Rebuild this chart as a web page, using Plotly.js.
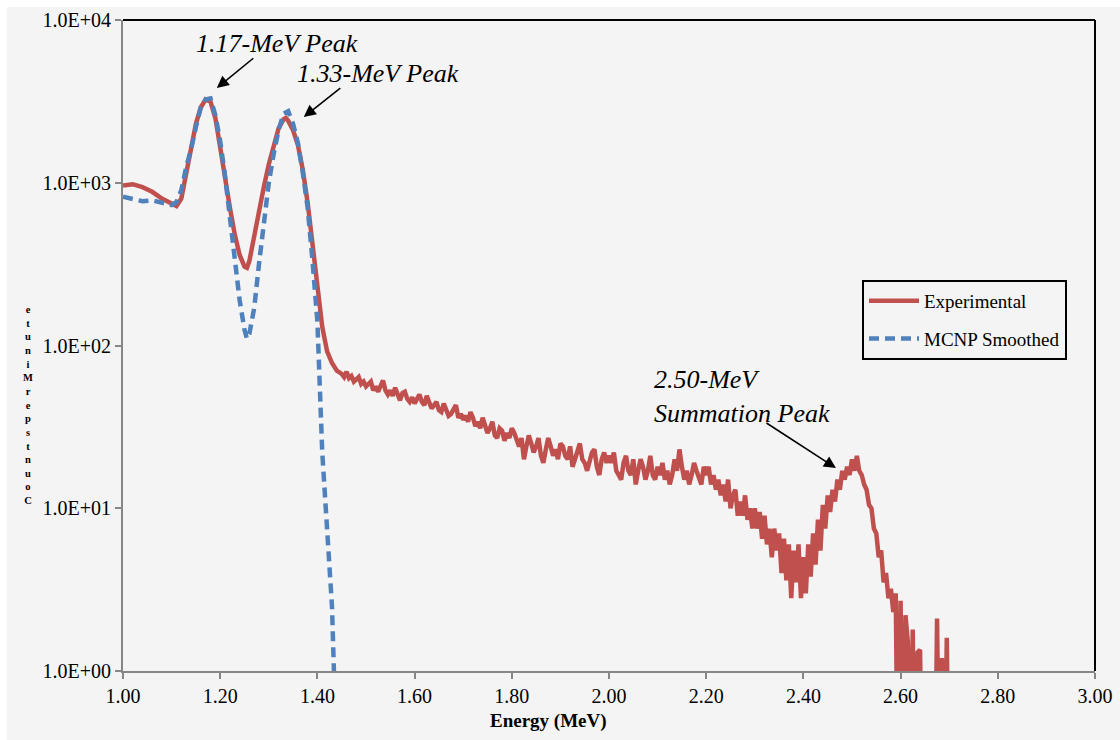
<!DOCTYPE html>
<html>
<head>
<meta charset="utf-8">
<script src="https://cdn.plot.ly/plotly-3.0.1.min.js"></script>
<style>
html,body{margin:0;padding:0;background:#ffffff;}
#chart{position:absolute;left:7px;top:7px;width:1113px;height:733px;}
</style>
</head>
<body>
<div id="chart"></div>
<script>
// ---- Data ----
// Experimental spectrum, smooth part (explicit energies)
const expEnergySmooth = [1.00,1.02,1.04,1.06,1.08,1.10,1.11,1.12,1.13,1.14,1.15,1.16,1.17,1.18,1.19,1.20,1.21,1.22,1.23,1.24,1.25,1.255,1.26,1.27,1.28,1.29,1.30,1.31,1.32,1.33,1.335,1.34,1.35,1.36,1.37,1.38,1.39,1.40,1.41,1.42,1.43,1.44];
const expCountsSmooth = [960,980,940,880,800,740,720,800,1150,1650,2300,2900,3250,3150,2500,1650,1050,700,480,360,305,300,330,480,680,950,1300,1700,2150,2450,2500,2400,2100,1700,1200,750,420,230,130,92,78,70];
// Experimental spectrum, noisy part: channels from 1.450 MeV every 0.005 MeV
const expNoisyStart = 1.45;
const expNoisyStep = 0.005;
const expCountsNoisy = [
 67,64,69,63,65,60,62,64,58,60,56,
 58,60,53,56,52,57,61,53,50,53,49,55,50,46,51,52,47,45,48,44,
 47,50,45,43,49,44,41,43,45,40,39,44,41,37,38,41,43,36,38,35,
 37,34,39,36,32,34,31,36,33,29,31,34,28,27,31,30,26,29,27,31,
 29,26,24,27,20,24,28,25,22,24,27,21,19,23,27,24,21,23,20,25,
 24,21,20,24,18,20,23,25,20,19,17,19,22,23,18,16,20,22,19,21,
 19,22,17,16,15,19,21,17,16,20,14,17,20,18,15,17,21,16,15,18,
 16,19,15,17,14,16,20,17,23,18,15,17,14,16,19,17,15,14,18,16,
 18,14,16,13,15,12,14,11,15,10,12,13,9,11,9,12,8.5,10,7.5,10,
 7.5,9.5,6.5,9,6,7.5,5,7.5,5.5,7,4,6.5,3.6,6,2.8,5.5,3.5,6,2.8,5,
 3,6,3.8,7,4.5,8.5,5.5,10.5,7.5,12,9.5,13,11,15,13,17,15,18,16,20,
 17,21,17,16,14,13,10.5,10,7.5,7,
 5,5.5,3.5,4,2.8,3.2,2.3,3,0.1,2.7,0.1,2.2,1.5,0.1,1.8,0.1,1.3,1.35,0.1,0.1,0.1,0.1,0.1,0.1,2.1,0.1,1.2,0.1,1.6,0.1
];
// MCNP smoothed spectrum
const mcnpEnergy = [1.00,1.02,1.04,1.06,1.08,1.10,1.11,1.12,1.13,1.14,1.15,1.16,1.17,1.18,1.19,1.20,1.21,1.22,1.23,1.24,1.25,1.255,1.26,1.27,1.28,1.29,1.30,1.31,1.32,1.33,1.34,1.35,1.36,1.37,1.38,1.39,1.40,1.41,1.42,1.425,1.43,1.435];
const mcnpCounts = [820,790,770,780,750,730,760,900,1250,1600,2200,2900,3250,3300,2600,1800,1100,620,340,190,125,110,118,170,320,600,1000,1500,2100,2650,2750,2300,1750,1150,700,330,140,22,8,4.5,2.5,0.8];

const yTickVals = [1,10,100,1000,10000];
const yTickText = ['1.0E+00','1.0E+01','1.0E+02','1.0E+03','1.0E+04'];
const xTickVals = [1.0,1.2,1.4,1.6,1.8,2.0,2.2,2.4,2.6,2.8,3.0];
const xTickText = ['1.00','1.20','1.40','1.60','1.80','2.00','2.20','2.40','2.60','2.80','3.00'];
// y-axis title as it appears in the reference: "Counts per Minute" stacked, reversed
const yTitleChars = ['e','t','u','n','i','M','r','e','p','s','t','n','u','o','C'];

// ---- Build ----
const expE = expEnergySmooth.slice();
const expC = expCountsSmooth.slice();
expCountsNoisy.forEach((c,i)=>{ expE.push(+(expNoisyStart + i*expNoisyStep).toFixed(3)); expC.push(c); });

const FONT = 'Liberation Serif';
const PL = 116, PT = 13, PW = 972, PH = 651;   // plot area in div px
const px2x = p => (p - 7 - PL) / PW;
const py2y = p => (PT + PH - (p - 7)) / PH;

const traces = [
  {x: expE, y: expC, type:'scatter', mode:'lines', name:'Experimental',
   line:{color:'#C0504D', width:4.5}, legendgroup:'a'},
  {x: mcnpEnergy, y: mcnpCounts, type:'scatter', mode:'lines', name:'MCNP Smoothed',
   line:{color:'#4F81BD', width:4.5, dash:'10px,6px'}, legendgroup:'b'}
];

const arrowStyle = {text:'', showarrow:true, arrowhead:2, arrowsize:1.5, arrowwidth:1.6, arrowcolor:'#000'};
const annotations = [
  Object.assign({xref:'x', yref:'y', x:1.193, y:3.582, ax:38, ay:-31}, arrowStyle),
  Object.assign({xref:'x', yref:'y', x:1.372, y:3.404, ax:38, ay:-30}, arrowStyle),
  Object.assign({xref:'x', yref:'y', x:2.467, y:1.247, ax:-71, ay:-46}, arrowStyle),
  {xref:'paper', yref:'paper', x:px2x(277), y:py2y(43), xanchor:'center', yanchor:'middle',
   text:'<i>1.17-MeV Peak</i>', showarrow:false, font:{family:FONT, size:26, color:'#000'}},
  {xref:'paper', yref:'paper', x:px2x(378), y:py2y(73), xanchor:'center', yanchor:'middle',
   text:'<i>1.33-MeV Peak</i>', showarrow:false, font:{family:FONT, size:26, color:'#000'}},
  {xref:'paper', yref:'paper', x:px2x(652), y:py2y(396), xanchor:'left', yanchor:'middle', align:'left',
   text:'<i>2.50-MeV<br>Summation Peak</i>', showarrow:false, font:{family:FONT, size:26, color:'#000'}},
  {xref:'paper', yref:'paper', x:px2x(548), y:py2y(721), xanchor:'center', yanchor:'middle',
   text:'<b>Energy (MeV)</b>', showarrow:false, font:{family:FONT, size:19, color:'#000'}},
  {xref:'paper', yref:'paper', x:px2x(28), y:py2y(405), xanchor:'center', yanchor:'middle', align:'center',
   text:'<b>' + yTitleChars.join('<br>') + '</b>', showarrow:false, font:{family:FONT, size:10.5, color:'#000'}}
];

const layout = {
  width:1113, height:733,
  margin:{l:PL, r:25, t:PT, b:69},
  paper_bgcolor:'#f4f4f4', plot_bgcolor:'#f4f4f4',
  font:{family:FONT, size:19, color:'#000'},
  showlegend:true,
  legend:{x:px2x(862), y:py2y(280), xanchor:'left', yanchor:'top',
    bgcolor:'#f4f4f4', bordercolor:'#000', borderwidth:2, itemwidth:50,
    font:{family:FONT, size:19, color:'#000'}, tracegroupgap:10},
  xaxis:{type:'linear', range:[1,3], tickvals:xTickVals, ticktext:xTickText,
    showgrid:false, zeroline:false, showline:true, linecolor:'#868686', linewidth:2,
    ticks:'outside', ticklen:6, tickwidth:2, tickcolor:'#868686',
    tickfont:{family:FONT, size:20, color:'#000'}},
  yaxis:{type:'log', range:[0,4], tickvals:yTickVals, ticktext:yTickText,
    showgrid:false, zeroline:false, showline:true, linecolor:'#868686', linewidth:2,
    ticks:'outside', ticklen:6, tickwidth:2, tickcolor:'#868686',
    tickfont:{family:FONT, size:20, color:'#000'}},
  shapes:[
    {type:'line', xref:'paper', yref:'paper', x0:0, x1:1, y0:1, y1:1, line:{color:'#000', width:2}},
    {type:'line', xref:'paper', yref:'paper', x0:1, x1:1, y0:0, y1:1, line:{color:'#000', width:2}}
  ],
  annotations: annotations
};

Plotly.newPlot('chart', traces, layout, {displayModeBar:false, staticPlot:true});
</script>
</body>
</html>
